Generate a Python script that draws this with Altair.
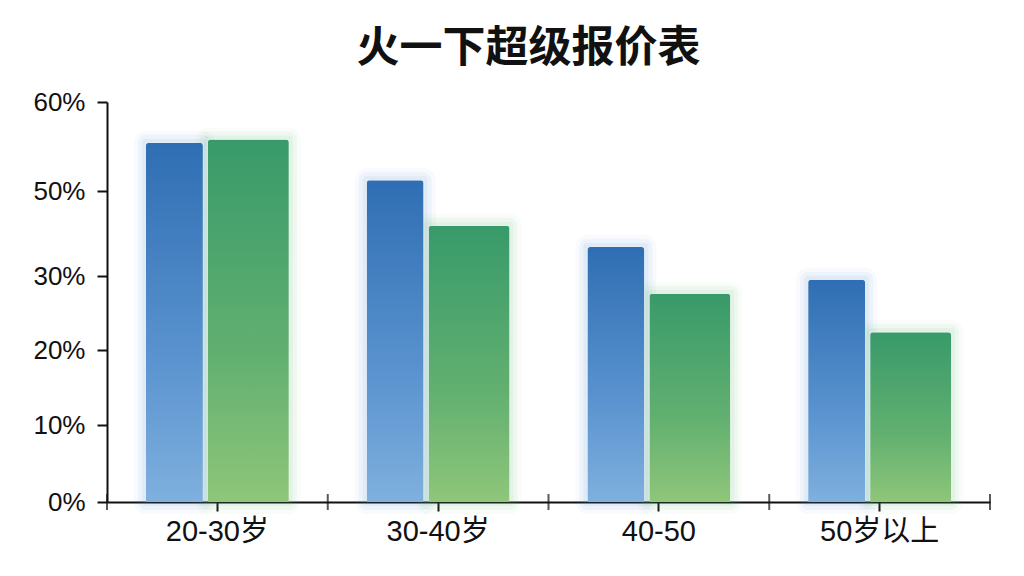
import altair as alt
import pandas as pd

categories = ["20-30岁", "30-40岁", "40-50", "50岁以上"]
blue_values = [55.4, 51.2, 36.8, 29.5]
green_values = [55.8, 41.8, 27.6, 22.4]
y_ticks = [0, 10, 20, 30, 50, 60]
y_tick_pixels = [400, 323, 248, 174, 89, 0]

blue_df = pd.DataFrame({"cat": categories, "v": blue_values})
green_df = pd.DataFrame({"cat": categories, "v": green_values})

FONT = "Noto Sans CJK SC"
LFONT = "Liberation Sans, Noto Sans CJK SC"

xenc = alt.X("cat:N", sort=categories, title=None,
             scale=alt.Scale(paddingInner=0, paddingOuter=0),
             axis=alt.Axis(labelFontSize=29, labelColor="#111", labelFont=LFONT,
                           labelAngle=0, labelPadding=6, domainColor="#111",
                           domainWidth=2, tickColor="#111", tickWidth=2, tickSize=9,
                           ticks=True))
yscale = alt.Scale(domain=y_ticks, range=y_tick_pixels)
yenc = alt.Y("v:Q", title=None, scale=yscale,
             axis=alt.Axis(values=y_ticks, labelExpr="datum.value + '%'",
                           labelFontSize=26, labelColor="#111", labelFont="Liberation Sans",
                           labelPadding=12, domainColor="#111", domainWidth=2,
                           tickColor="#111", tickWidth=2, tickSize=10, grid=False))

blue_grad = alt.Gradient(gradient="linear", x1=0, y1=0, x2=0, y2=1,
                         stops=[alt.GradientStop(color="#2f6eb3", offset=0),
                                alt.GradientStop(color="#5a93cf", offset=0.6),
                                alt.GradientStop(color="#7fb0de", offset=1)])
green_grad = alt.Gradient(gradient="linear", x1=0, y1=0, x2=0, y2=1,
                          stops=[alt.GradientStop(color="#389a6a", offset=0),
                                 alt.GradientStop(color="#62b070", offset=0.6),
                                 alt.GradientStop(color="#8fc67a", offset=1)])

def glow(df, color, size, off):
    layers = []
    for sw, op in [(24, 0.04), (16, 0.06), (8, 0.08)]:
        layers.append(alt.Chart(df).mark_bar(size=size, xOffset=off, color=color,
                                             fillOpacity=0, stroke=color, strokeWidth=sw,
                                             strokeOpacity=op, strokeJoin="round")
                      .encode(x=xenc, y=yenc))
    return layers

blue_off = -43
green_off = 31
layers = []
layers += glow(blue_df, "#4a86d0", 57, blue_off)
layers += glow(green_df, "#5ab46e", 81, green_off)
layers.append(alt.Chart(blue_df).mark_bar(size=57, xOffset=blue_off, color=blue_grad,
                                          cornerRadiusTopLeft=3, cornerRadiusTopRight=3)
              .encode(x=xenc, y=yenc))
layers.append(alt.Chart(green_df).mark_bar(size=81, xOffset=green_off, color=green_grad,
                                           cornerRadiusTopLeft=3, cornerRadiusTopRight=3)
              .encode(x=xenc, y=yenc))
# crossing ticks at band boundaries
bound_df = pd.DataFrame({"cat": categories, "v": [0, 0, 0, 0]})
layers.append(alt.Chart(bound_df).mark_tick(color="#111", thickness=2, size=16,
                                            orient="vertical")
              .encode(x=alt.X("cat:N", sort=categories, bandPosition=1), y=alt.Y("v:Q")))
layers.append(alt.Chart(bound_df.iloc[:1]).mark_tick(color="#111", thickness=2, size=16,
                                                     orient="vertical")
              .encode(x=alt.X("cat:N", sort=categories, bandPosition=0), y=alt.Y("v:Q")))

chart = alt.layer(*layers).properties(
    width=883, height=400,
    background="white",
    title=alt.Title("火一下超级报价表", font=FONT, fontSize=43, fontWeight="bold",
                    color="#111", anchor="middle", offset=18, dx=-20),
    autosize=alt.AutoSizeParams(type="none"),
    padding={"left": 99, "top": 94, "right": 20, "bottom": 60},
).configure_view(stroke=None)

chart.save("out.html", embed_options={"renderer": "svg", "actions": False})
